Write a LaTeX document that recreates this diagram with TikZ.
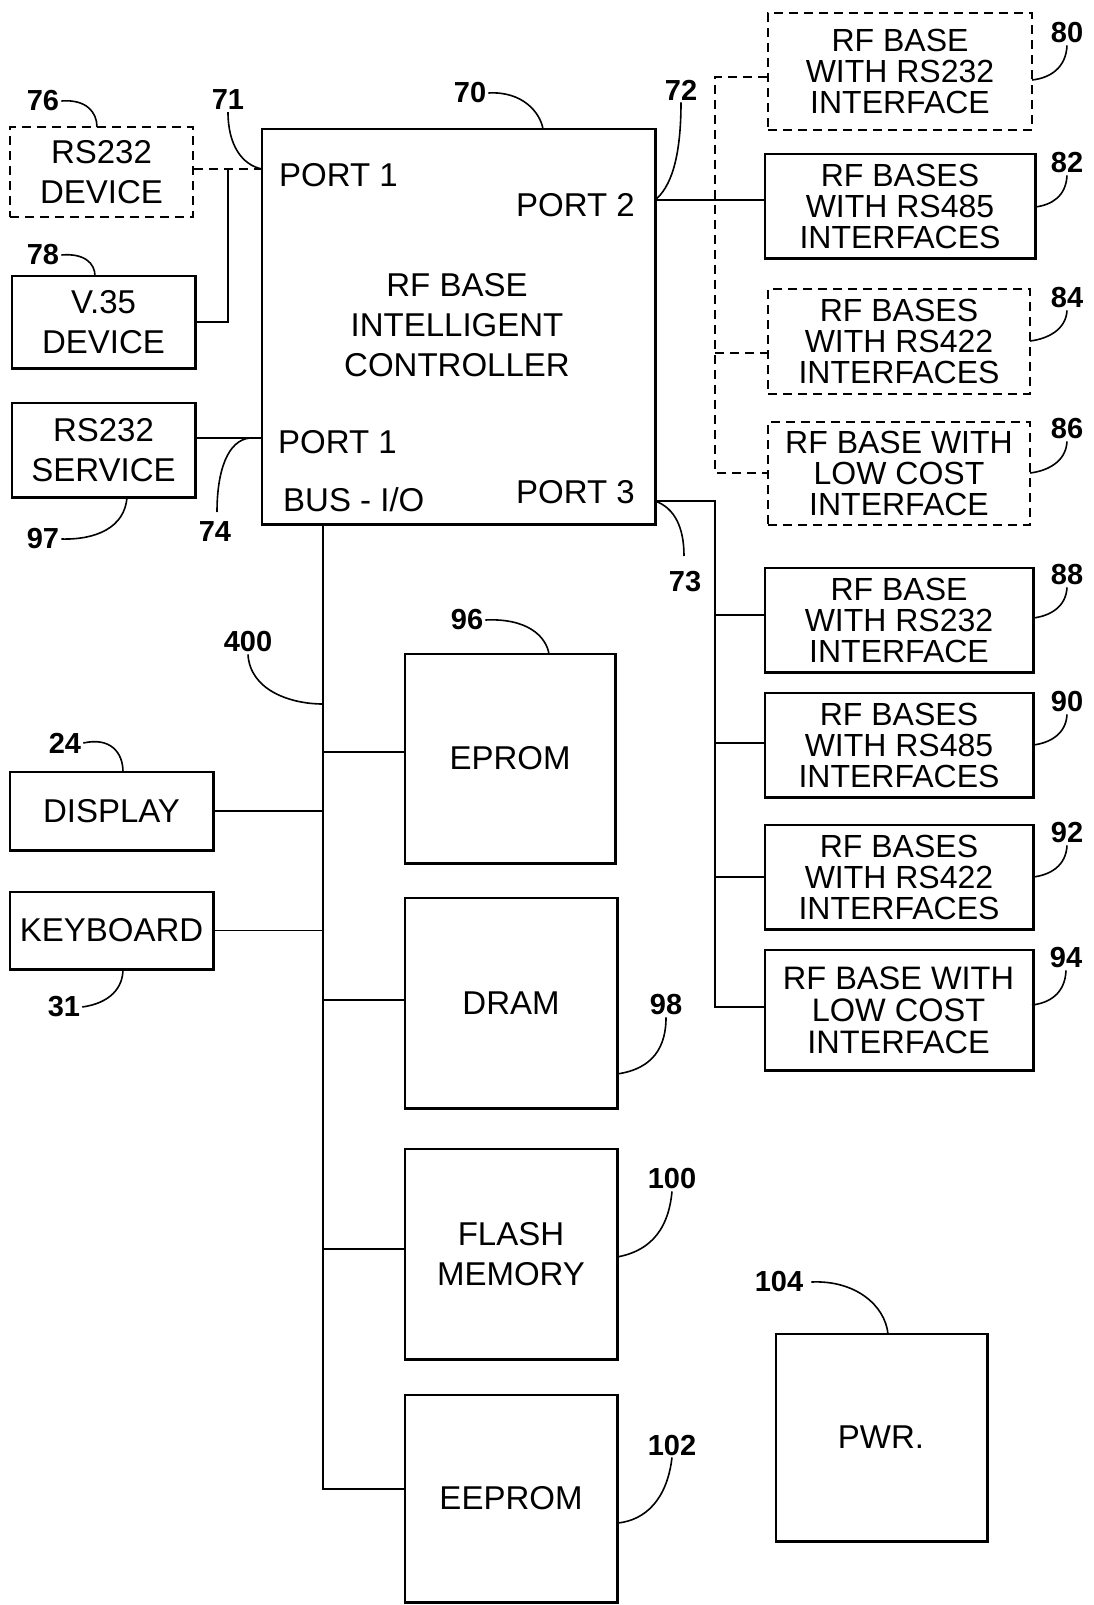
\documentclass[tikz,border=0pt]{standalone}
\usepackage{fontspec}
\setmainfont{Liberation Sans}
\newcommand\bigtxt{\fontsize{33}{40}\selectfont}
\newcommand\rtxt{\fontsize{32}{31}\selectfont}
\newcommand\rtxtb{\fontsize{32.5}{32}\selectfont}
\newcommand\lbltxt{\bfseries\fontsize{29}{29}\selectfont}
\newcommand\heavyedge[1]{\draw[line width=2pt] ([shift={(0.2pt,0pt)}]#1.north east) -- ([shift={(0.2pt,-0.2pt)}]#1.south east) -- ([shift={(0pt,-0.2pt)}]#1.south west);}
\begin{document}
\begin{tikzpicture}[x=1pt,y=-1pt,
  sz/.style 2 args={minimum width=#1pt, minimum height=#2pt},
  box/.style={draw, line width=2pt, inner sep=0pt, align=center, font=\bigtxt},
  dbox/.style={box, dash pattern=on 9pt off 6pt},
  rbox/.style={box, font=\rtxt},
  drbox/.style={rbox, dash pattern=on 9pt off 6pt},
  lbl/.style={inner sep=2pt, font=\lbltxt},
  wire/.style={line width=1.8pt},
  dwire/.style={line width=1.8pt, dash pattern=on 9pt off 6pt},
  leader/.style={line width=1.6pt},
  ptxt/.style={inner sep=0pt, font=\bigtxt, align=center},
]
\useasboundingbox (0,0) rectangle (1093,1605);

% controller
\node[box, sz={393}{395}] (ctrl) at (458.5,326.5) {};
\node[ptxt] (ctrltxt) at (457,325) {RF BASE\\INTELLIGENT\\CONTROLLER};
\node[ptxt, anchor=west] (p1a) at (279,175) {PORT 1};
\node[ptxt, anchor=east] (p2) at (635,205) {PORT 2};
\node[ptxt, anchor=west] (p1b) at (278,442) {PORT 1};
\node[ptxt, anchor=west] (busio) at (283,500) {BUS - I/O};
\node[ptxt, anchor=east] (p3) at (635,492) {PORT 3};
\heavyedge{ctrl}

% left devices
\node[dbox, sz={183}{90}] (rs232) at (101.5,172) {RS232\\DEVICE};
\node[box, sz={183}{92}] (v35) at (103.5,322) {V.35\\DEVICE};
\node[box, sz={183}{94}] (svc) at (103.5,450) {RS232\\SERVICE};
\node[box, sz={203}{78}] (disp) at (111.5,811) {DISPLAY};
\node[box, sz={203}{77}] (kbd) at (111.5,930.5) {KEYBOARD};
\heavyedge{v35}\heavyedge{svc}\heavyedge{disp}\heavyedge{kbd}

% memories
\node[box, sz={210}{209}] (eprom) at (510,758.5) {EPROM};
\node[box, sz={212}{210}] (dram) at (511,1003) {DRAM};
\node[box, sz={212}{210}] (flash) at (511,1254) {FLASH\\MEMORY};
\node[box, sz={212}{207}] (eeprom) at (511,1498.5) {EEPROM};
\node[box, sz={211}{207}] (pwr) at (881,1437.5) {PWR.};
\heavyedge{eprom}\heavyedge{dram}\heavyedge{flash}\heavyedge{eeprom}\heavyedge{pwr}

% right bases
\node[drbox, sz={264}{117}] (b80) at (900,71.5) {RF BASE\\WITH RS232\\INTERFACE};
\node[rbox, sz={270}{104}] (b82) at (900,206) {RF BASES\\WITH RS485\\INTERFACES};
\node[drbox, sz={262}{105}] (b84) at (899,341.5) {RF BASES\\WITH RS422\\INTERFACES};
\node[drbox, sz={262}{103}] (b86) at (899,473.5) {RF BASE WITH\\LOW COST\\INTERFACE};
\node[rbox, sz={268}{104}] (b88) at (899,620) {RF BASE\\WITH RS232\\INTERFACE};
\node[rbox, sz={268}{104}] (b90) at (899,745) {RF BASES\\WITH RS485\\INTERFACES};
\node[rbox, sz={268}{104}] (b92) at (899,877) {RF BASES\\WITH RS422\\INTERFACES};
\node[rbox, sz={268}{120}, font=\rtxtb] (b94) at (898.5,1010) {RF BASE WITH\\LOW COST\\INTERFACE};
\heavyedge{b82}\heavyedge{b88}\heavyedge{b90}\heavyedge{b92}\heavyedge{b94}

% port 1 connections
\coordinate (j71) at (262,169);
\coordinate (k71) at (228,169);
\draw[dwire] (rs232.east |- k71) -- (j71);
\draw[wire] (v35.east) -| (k71);
\coordinate (j74) at (262,438);
\draw[wire] (svc.east |- j74) -- (j74);

% port 2
\coordinate (j72) at (655,200);
\draw[wire] (j72) -- (j72 -| b82.west);
\coordinate (t80) at (715,77);
\coordinate (t84) at (715,353);
\coordinate (t86) at (715,473);
\draw[dwire] (b80.west |- t80) -- (t80) -- (t86) -- (b86.west |- t86);
\draw[dwire] (t84) -- (b84.west |- t84);

% port 3
\coordinate (j73) at (655,501);
\coordinate (t73) at (715,501);
\coordinate (t88) at (715,615);
\coordinate (t90) at (715,743);
\coordinate (t92) at (715,877);
\coordinate (t94) at (715,1007);
\draw[wire] (j73) -- (t73) -- (t94) -- (b94.west |- t94);
\draw[wire] (t88) -- (b88.west |- t88);
\draw[wire] (t90) -- (b90.west |- t90);
\draw[wire] (t92) -- (b92.west |- t92);

% bus
\coordinate (bt) at (323,524);
\coordinate (bb) at (323,1489);
\draw[wire] (bt) -- (bb) -- (eeprom.west |- bb);
\coordinate (be) at (323,752);
\draw[wire] (be) -- (eprom.west |- be);
\draw[wire] (disp.east) -- (disp.east -| bt);
\draw[wire] (kbd.east) -- (kbd.east -| bt);
\coordinate (bd) at (323,1000);
\draw[wire] (bd) -- (dram.west |- bd);
\coordinate (bf) at (323,1249);
\draw[wire] (bf) -- (flash.west |- bf);

% labels and leaders
\node[lbl] (l76) at (43,101) {76};
\draw[leader] (l76.east) .. controls (86,99) and (97,112) .. (97,127);
\node[lbl] (l78) at (43,255) {78};
\draw[leader] (l78.east) .. controls (84,253) and (95,263) .. (95,276);
\node[lbl] (l71) at (228,100) {71};
\draw[leader] (l71.south) .. controls (228,145) and (242,165) .. (j71);
\node[lbl] (l70) at (470,93) {70};
\draw[leader] (l70.east) .. controls (522,91) and (540,112) .. (543,129);
\node[lbl] (l72) at (681,90) {72};
\draw[leader] (l72.south) .. controls (681,160) and (670,188) .. (j72);
\node[lbl] (l80) at (1067,33) {80};
\draw[leader] (l80.south) .. controls (1066,68) and (1050,78) .. (1032,80);
\node[lbl] (l82) at (1067,163) {82};
\draw[leader] (l82.south) .. controls (1066,196) and (1052,205) .. (1035,207);
\node[lbl] (l84) at (1067,298) {84};
\draw[leader] (l84.south) .. controls (1066,330) and (1047,339) .. (1030,341);
\node[lbl] (l86) at (1067,429) {86};
\draw[leader] (l86.south) .. controls (1066,462) and (1047,471) .. (1030,473);
\node[lbl] (l88) at (1067,575) {88};
\draw[leader] (l88.south) .. controls (1066,607) and (1050,616) .. (1033,618);
\node[lbl] (l90) at (1067,702) {90};
\draw[leader] (l90.south) .. controls (1066,734) and (1050,743) .. (1033,745);
\node[lbl] (l92) at (1067,833) {92};
\draw[leader] (l92.south) .. controls (1066,866) and (1050,875) .. (1033,877);
\node[lbl] (l94) at (1066,958) {94};
\draw[leader] (l94.south) .. controls (1065,994) and (1049,1003) .. (1032,1005);
\node[lbl] (l73) at (685,582) {73};
\draw[leader] (j73) .. controls (675,508) and (684,528) .. (684,556);
\node[lbl] (l74) at (215,532) {74};
\draw[leader] (250,438) .. controls (228,440) and (217,470) .. (217,512);
\node[lbl] (l97) at (43,539) {97};
\draw[leader] (127,497) .. controls (125,528) and (95,540) .. (l97.east);
\node[lbl] (l400) at (248,642) {400};
\draw[leader] (l400.south) .. controls (250,690) and (290,704) .. (323,704);
\node[lbl] (l96) at (467,620) {96};
\draw[leader] (l96.east) .. controls (527,618) and (546,636) .. (549,654);
\node[lbl] (l24) at (65,743) {24};
\draw[leader] (l24.east) .. controls (110,737) and (123,752) .. (123,772);
\node[lbl] (l31) at (64,1007) {31};
\draw[leader] (l31.east) .. controls (110,1003) and (123,988) .. (123,969);
\node[lbl] (l98) at (666,1005) {98};
\draw[leader] (l98.south) .. controls (666,1055) and (645,1070) .. (617,1074);
\node[lbl] (l100) at (672,1179) {100};
\draw[leader] (l100.south) .. controls (668,1235) and (645,1252) .. (617,1257);
\node[lbl] (l102) at (672,1445) {102};
\draw[leader] (l102.south) .. controls (667,1500) and (645,1520) .. (618,1523);
\node[lbl] (l104) at (779,1282) {104};
\draw[leader] ([xshift=6pt]l104.east) .. controls (855,1280) and (885,1305) .. (888,1334);
\end{tikzpicture}
\end{document}
